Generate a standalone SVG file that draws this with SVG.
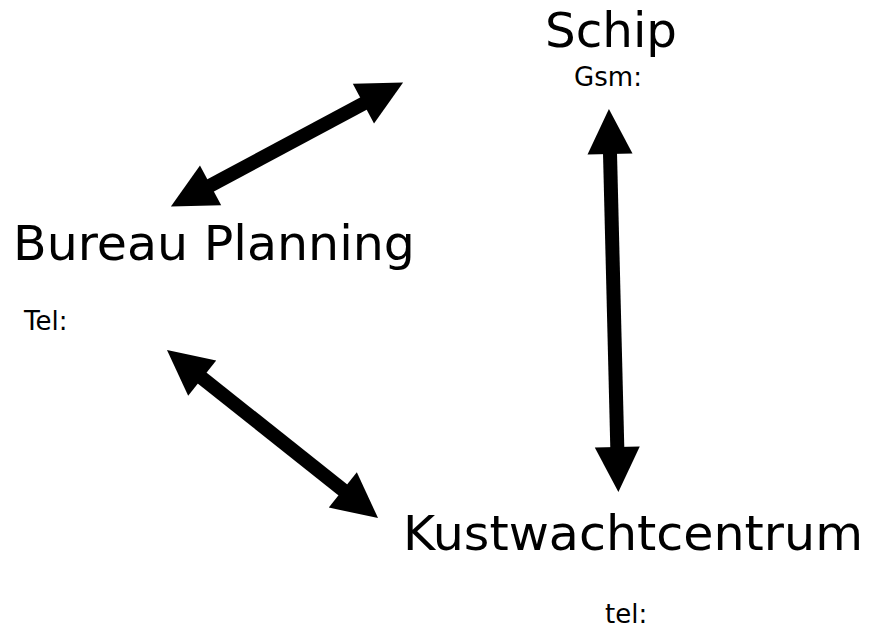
<svg xmlns="http://www.w3.org/2000/svg" width="872" height="628" viewBox="0 0 872 628">
  <defs>
    <style>
      .title { font-family: "DejaVu Sans", "Liberation Sans", sans-serif; font-size: 48px; fill: #000; }
      .sub { font-family: "DejaVu Sans", "Liberation Sans", sans-serif; font-size: 26px; fill: #000; }
      .link { stroke: #000; stroke-width: 14; fill: none; stroke-linecap: butt; marker-start: url(#head); marker-end: url(#head); }
    </style>
    <!-- triangular head, base sits at the shaft end, tip 45px further on -->
    <marker id="head" markerUnits="userSpaceOnUse" markerWidth="50" markerHeight="50" refX="1" refY="0" orient="auto-start-reverse" overflow="visible">
      <path d="M0,-22.5 L45,0 L0,22.5 Z" fill="#000"/>
    </marker>
  </defs>
  <rect width="872" height="628" fill="#fff"/>

  <g id="connectors">
    <!-- Bureau Planning <-> Schip -->
    <line class="link" x1="209.7" y1="185.8" x2="364.3" y2="103.2"/>
    <!-- Schip <-> Kustwachtcentrum -->
    <line class="link" x1="610" y1="153" x2="617.3" y2="448"/>
    <!-- Bureau Planning <-> Kustwachtcentrum -->
    <line class="link" x1="201.4" y1="377.4" x2="343.6" y2="490.6"/>
  </g>

  <g id="schip">
    <text class="title" x="545" y="47" textLength="132" lengthAdjust="spacingAndGlyphs">Schip</text>
    <text class="sub" x="608" y="86" text-anchor="middle">Gsm:</text>
  </g>

  <g id="bureau-planning">
    <text class="title" x="13" y="260" textLength="402" lengthAdjust="spacingAndGlyphs">Bureau Planning</text>
    <text class="sub" x="24" y="330">Tel:</text>
  </g>

  <g id="kustwachtcentrum">
    <text class="title" x="403" y="550" textLength="460" lengthAdjust="spacingAndGlyphs">Kustwachtcentrum</text>
    <text class="sub" x="605" y="623">tel:</text>
  </g>
</svg>
